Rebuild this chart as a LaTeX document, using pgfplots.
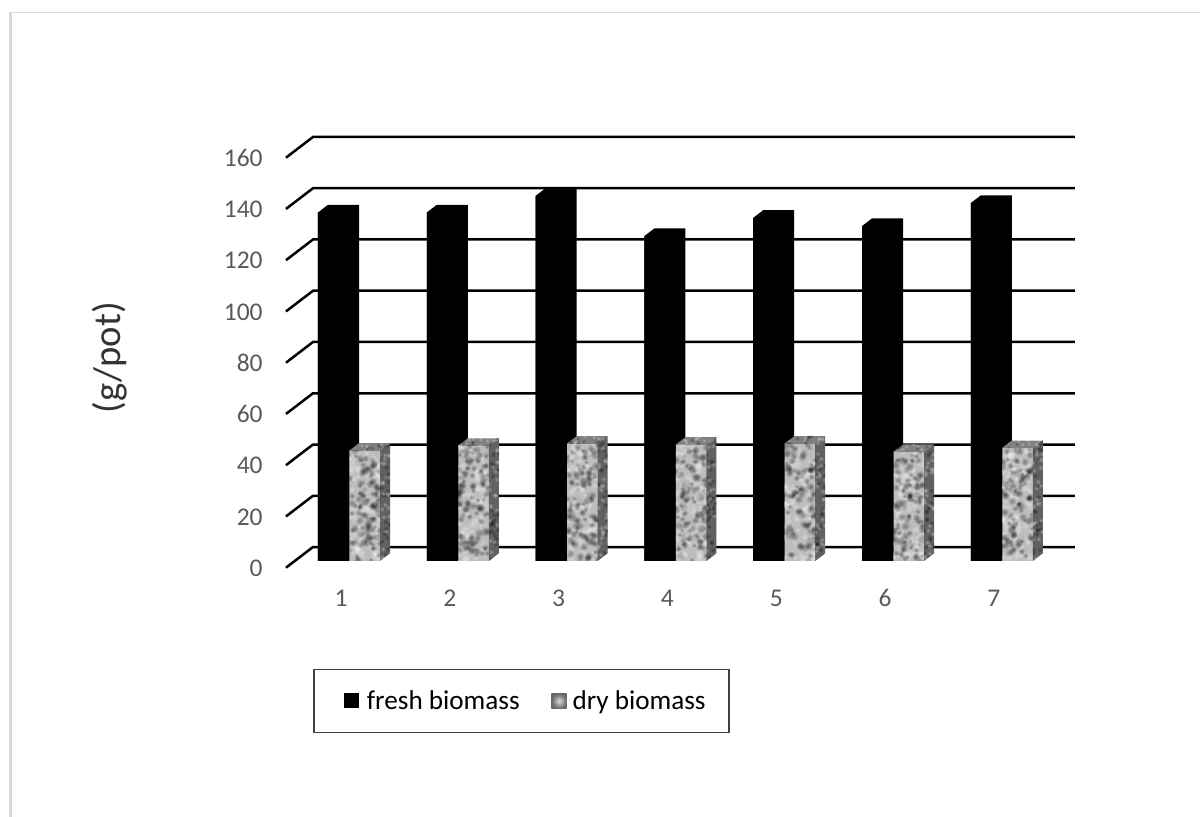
\documentclass[border=0pt]{standalone}
\usepackage{fontspec}
\setmainfont{Carlito}
\usepackage{pgfplots}
\usepackage{pgfplotstable}
\pgfplotsset{compat=1.18}
\definecolor{ticktext}{HTML}{595959}
\definecolor{framegrey}{HTML}{D9D9D9}

% biomass per treatment (g/pot)
\pgfplotstableread{
cat fresh dry
1 136 43.0
2 136 44.9
3 142.5 45.7
4 126.8 45.3
5 133.9 45.7
6 130.7 42.5
7 139.7 44.0
}\biomass

% bar geometry in data units
\def\bw{0.285}
\def\depthx{0.092}
\def\depthy{3.0}

% soft-edged blotch: concentric translucent discs
\newcommand\blotch[4]{% colour, x, y, radius
  \fill[#1,opacity=0.11] (#2,#3) circle[radius=#4*0.6pt];
  \fill[#1,opacity=0.11] (#2,#3) circle[radius=#4*0.42pt];
  \fill[#1,opacity=0.11] (#2,#3) circle[radius=#4*0.25pt];
}

\begin{document}
\begin{tikzpicture}
\begin{axis}[
  scale only axis,
  width=473.4pt, height=258.42pt,
  xmin=0.4945, xmax=7.746,
  ymin=-2.61, ymax=165.46,
  clip=false,
  axis line style={draw=none},
  tick style={draw=none},
  xtick={1,...,7},
  ytick={-2.61,17.39,37.39,57.39,77.39,97.39,117.39,137.39,157.39},
  yticklabels={0,20,40,60,80,100,120,140,160},
  /pgf/number format/assume math mode=true,
  tick label style={font=\fontsize{15.3}{18}\selectfont,text=ticktext,text height=10.5pt,text depth=0pt},
  xticklabel style={yshift=-9pt},
  yticklabel style={xshift=-10.5pt},
  ylabel={(g/pot)},
  ylabel style={at={(axis description cs:-0.223,0.487)},anchor=center,
    font=\fontsize{23.2}{27}\selectfont,text=black!80},
  legend style={at={(axis cs:0.746,-42.1)},anchor=north west,draw=black!75,line width=0.7pt,
    font=\fontsize{16.3}{19}\selectfont,legend columns=2,
    inner xsep=12pt,inner ysep=10.5pt,
    /tikz/every even column/.style={column sep=17pt}},
  legend cell align=left,
]
% wall and floor grid lines, bent at the back corner
\pgfplotsinvokeforeach{0,20,...,160}{
  \pgfmathsetmacro\ga{#1-2.61}
  \pgfmathsetmacro\gb{#1+5.46}
  \addplot[black,line width=1.5pt,forget plot] coordinates {(0.4945,\ga) (0.7427,\gb) (7.746,\gb)};
}
% fresh biomass: front face, then its top and side
\addplot[ybar,fill=black,draw=none,bar width=18.6pt,bar shift=-4.5pt,forget plot] table[x=cat,y=fresh] {\biomass};
\pgfplotsinvokeforeach{0,...,6}{
  \pgfplotstablegetelem{#1}{fresh}\of\biomass
  \pgfmathsetmacro\vv{\pgfplotsretval}
  \pgfmathsetmacro\vt{\vv+\depthy}
  \pgfmathsetmacro\xl{#1+1-0.2114}
  \pgfmathsetmacro\xm{\xl+\depthx}
  \pgfmathsetmacro\xr{\xl+\bw}
  \pgfmathsetmacro\xs{\xr+\depthx}
  \addplot[fill=black,draw=none,forget plot] coordinates {(\xl,\vv) (\xm,\vt) (\xs,\vt) (\xs,\depthy) (\xr,0) (\xl,0)} --cycle;
}
% dry biomass: front face, then top and side
\addplot[ybar,fill=black!26,draw=none,bar width=18.6pt,bar shift=14.4pt,forget plot] table[x=cat,y=dry] {\biomass};
\pgfplotsinvokeforeach{0,...,6}{
  \pgfplotstablegetelem{#1}{dry}\of\biomass
  \pgfmathsetmacro\vv{\pgfplotsretval}
  \pgfmathsetmacro\vt{\vv+\depthy}
  \pgfmathsetmacro\xl{#1+1+0.0735}
  \pgfmathsetmacro\xm{\xl+\depthx}
  \pgfmathsetmacro\xr{\xl+\bw}
  \pgfmathsetmacro\xs{\xr+\depthx}
  \addplot[fill=black!50,draw=none,forget plot] coordinates {(\xl,\vv) (\xm,\vt) (\xs,\vt) (\xr,\vv)} --cycle;
  \addplot[fill=black!62,draw=none,forget plot] coordinates {(\xr,\vv) (\xs,\vt) (\xs,\depthy) (\xr,0)} --cycle;
}
\addlegendimage{legend image code/.code={\path[draw=none,fill=none] (-8.8pt,0) -- (9pt,0); \fill[black,draw=none] (-2.6pt,-4.5pt) rectangle (6.4pt,4.5pt);}}
\addlegendentry{fresh biomass}
\addlegendimage{legend image code/.code={\path[draw=none,fill=none] (0,0) -- (9.5pt,0); \shade[draw=none,inner color=black!15,outer color=black!60] (-1.2pt,-4.5pt) rectangle (8pt,4.5pt);}}
\addlegendentry{dry biomass}
\end{axis}

% everything below is in pixel units of the page
\begin{scope}[x=0.6pt,y=-0.6pt,shift={(-171.6pt,340.62pt)}]
  \path[use as bounding box] (0,0) rectangle (1200,817);
  \fill[framegrey] (9,817) rectangle (12,12);
  \fill[framegrey] (9,12) rectangle (1200,13.5);
  % mottled stone finish on the dry biomass bars
  \pgfmathsetseed{4711}
  \foreach \i in {0,...,6}{
    \pgfplotstablegetelem{\i}{dry}\of\biomass
    \pgfmathsetmacro\topy{561-2.5625*\pgfplotsretval}
    \pgfmathsetmacro\lx{349.3+108.75*\i}
    \pgfmathsetmacro\rx{\lx+31}
    \pgfmathsetmacro\sx{\rx+10}
    \pgfmathsetmacro\bh{561-\topy}
    \begin{scope}
      \clip (\lx,\topy) rectangle (\rx,561);
      \foreach \k in {1,...,190}{
        \pgfmathsetmacro\px{\lx+31*rnd}
        \pgfmathsetmacro\py{\topy+\bh*rnd}
        \pgfmathsetmacro\pr{2+2.5*rnd}
        \pgfmathsetmacro\shade{rnd<0.5?1:0}
        \ifdim\shade pt>0.5pt
          \blotch{white}{\px}{\py}{\pr}
        \else
          \blotch{black}{\px}{\py}{\pr}
        \fi
      }
    \end{scope}
    \begin{scope}
      \clip (\rx,\topy) -- (\sx,\topy-8) -- (\sx,553) -- (\rx,561) -- cycle;
      \foreach \k in {1,...,50}{
        \pgfmathsetmacro\px{\rx+10*rnd}
        \pgfmathsetmacro\py{\topy-8+(\bh+8)*rnd}
        \pgfmathsetmacro\shade{rnd<0.5?1:0}
        \ifdim\shade pt>0.5pt
          \blotch{white}{\px}{\py}{2.4}
        \else
          \blotch{black}{\px}{\py}{2.4}
        \fi
      }
    \end{scope}
    \begin{scope}
      \clip (\lx,\topy) -- (\rx,\topy) -- (\sx,\topy-8) -- (\lx+10,\topy-8) -- cycle;
      \foreach \k in {1,...,16}{
        \pgfmathsetmacro\px{\lx+41*rnd}
        \pgfmathsetmacro\py{\topy-8*rnd}
        \pgfmathsetmacro\shade{rnd<0.5?1:0}
        \ifdim\shade pt>0.5pt
          \blotch{white}{\px}{\py}{2}
        \else
          \blotch{black}{\px}{\py}{2}
        \fi
      }
    \end{scope}
  }
\end{scope}
\end{tikzpicture}
\end{document}
